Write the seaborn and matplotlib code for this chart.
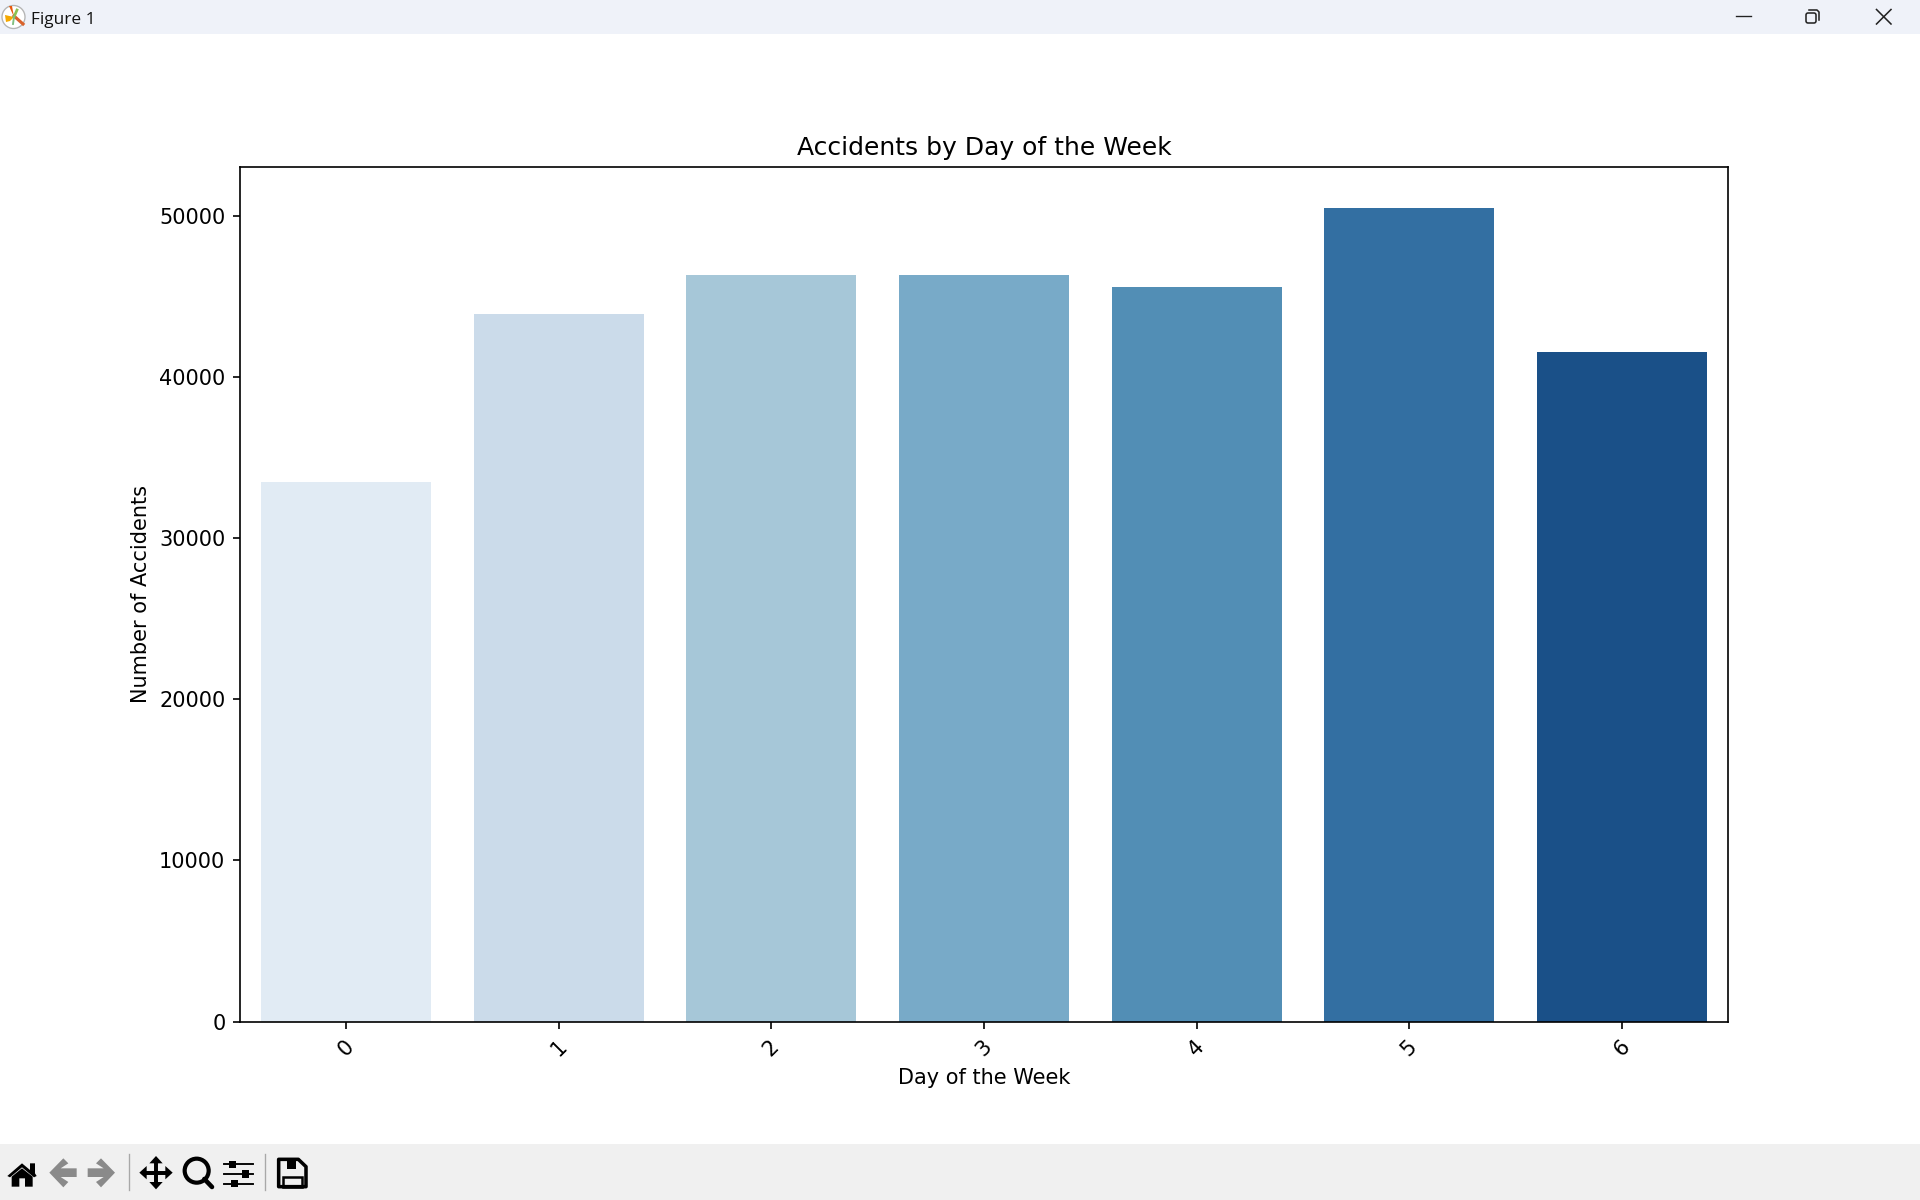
import matplotlib
matplotlib.use('Agg')
import matplotlib.pyplot as plt
import matplotlib.patches as mpatches
import pandas as pd
import seaborn as sns

# values
days = [0, 1, 2, 3, 4, 5, 6]
accidents = [33490, 43900, 46320, 46330, 45570, 50500, 41540]

DPI = 150
W, H = 1920, 1200

df = pd.DataFrame({'day': days, 'count': accidents})

fig, ax = plt.subplots(figsize=(W / DPI, H / DPI), dpi=DPI)
fig.subplots_adjust(left=240 / W, right=1728 / W, top=1 - 167 / H, bottom=1 - 1021.5 / H)

sns.barplot(data=df, x='day', y='count', hue='day', palette=sns.color_palette('Blues', 7),
            legend=False, ax=ax)
ax.set_title('Accidents by Day of the Week', pad=5.6)
ax.set_xlabel('Day of the Week')
ax.set_ylabel('Number of Accidents')
ax.tick_params(axis='x', rotation=45)

# window chrome, in pixel coordinates of the screenshot
ui = fig.add_axes([0, 0, 1, 1], zorder=5)
ui.set_xlim(0, W)
ui.set_ylim(H, 0)
ui.axis('off')
ui.patch.set_alpha(0)

ui.add_patch(mpatches.Rectangle((0, 0), W, 34, color='#eff2f9', lw=0))
ui.add_patch(mpatches.Rectangle((0, 1144), W, 56, color='#f0f0f0', lw=0))
ui.text(30.8, 19.5, 'Figure 1', fontsize=8.3, family='Open Sans', va='center', color='#111111')

# app icon
ui.add_patch(mpatches.Circle((13.5, 17), 11.5, fc='white', ec='#b5b5b5', lw=0.65))
ui.add_patch(mpatches.Polygon([(14, 17), (5, 15), (6, 22), (10, 21)], color='#f5a800', lw=0))
ui.add_patch(mpatches.Polygon([(14, 17), (9, 6), (12, 6)], color='#e8590c', lw=0))
ui.plot([14, 23], [16, 24], color='#d9622b', lw=1.5)
ui.plot([14, 17], [17, 10], color='#8cc152', lw=1.3)
ui.plot([14, 13], [17, 24], color='#7fbf7f', lw=0.9)


def zx(v):
    return v / 3


def zy(v):
    return 1130 + v / 3


def zpoly(points, **kw):
    ui.add_patch(mpatches.Polygon([(zx(x), zy(y)) for x, y in points], **kw))


# window buttons
ui.plot([1736, 1751], [16, 16], color='#222222', lw=0.65)
ui.add_patch(mpatches.FancyBboxPatch((1806, 13), 10, 10, boxstyle='round,pad=0,rounding_size=2',
                                     fc='none', ec='#222222', lw=0.75))
ui.plot([1809, 1817, 1819, 1819], [10, 10, 12, 20], color='#222222', lw=0.75)
ui.plot([1876.5, 1891], [9.5, 24], color='#222222', lw=0.75)
ui.plot([1876.5, 1891], [24, 9.5], color='#222222', lw=0.75)

# toolbar: home
zpoly([(22, 138), (66, 100), (90, 120), (90, 100), (105, 100), (105, 130), (110, 138), (102, 142),
       (66, 112), (30, 142)], color='black', lw=0)
zpoly([(35, 140), (66, 115), (98, 140), (98, 170), (75, 170), (75, 145), (58, 145), (58, 170), (35, 170)],
      color='black', lw=0)

# toolbar: back and forward (greyed out)
back = [(148, 128), (190, 85), (205, 100), (182, 115), (230, 115), (230, 141), (182, 141), (205, 156), (190, 172)]
zpoly(back, color='#8a8a8a', lw=0)
zpoly([(493 - x, y) for x, y in back], color='#8a8a8a', lw=0)

# toolbar: separators
for sx in (386, 796):
    ui.plot([zx(sx), zx(sx)], [zy(72), zy(180)], color='#a8a8a8', lw=0.65)

# toolbar: move
ui.plot([zx(435), zx(502)], [zy(128), zy(128)], color='black', lw=1.9)
ui.plot([zx(468), zx(468)], [zy(95), zy(162)], color='black', lw=1.9)
zpoly([(418, 128), (440, 108), (440, 148)], color='black', lw=0)
zpoly([(518, 128), (496, 108), (496, 148)], color='black', lw=0)
zpoly([(468, 78), (448, 100), (488, 100)], color='black', lw=0)
zpoly([(468, 178), (448, 156), (488, 156)], color='black', lw=0)

# toolbar: zoom
ui.add_patch(mpatches.Circle((zx(590), zy(122)), 12, fc='none', ec='black', lw=2.0))
ui.plot([zx(613), zx(636)], [zy(147), zy(171)], color='black', lw=2.2, solid_capstyle='round')

# toolbar: sliders
for sy, sl in ((103, 698), (132, 736), (161, 703)):
    ui.plot([zx(673), zx(760)], [zy(sy), zy(sy)], color='black', lw=0.9)
    ui.add_patch(mpatches.Rectangle((zx(sl - 10), zy(sy - 11)), 20 / 3, 22 / 3, color='black', lw=0))

# toolbar: save
zpoly([(836, 88), (895, 88), (918, 110), (918, 170), (836, 170)], fc='none', ec='black', lw=1.7,
      joinstyle='round')
zpoly([(860, 88), (888, 88), (888, 116), (860, 116)], color='black', lw=0)
ui.add_patch(mpatches.Rectangle((zx(850), zy(140)), 55 / 3, 30 / 3, fc='none', ec='black', lw=1.2))

fig.savefig('out.png', dpi=DPI)
